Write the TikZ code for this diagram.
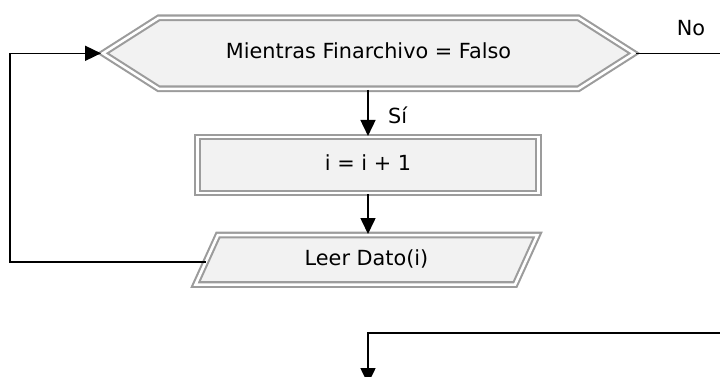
\documentclass[tikz,border=0pt]{standalone}
\usepackage{fontspec}
\setmainfont{DejaVu Sans}
\usepackage{tikz}
\usetikzlibrary{shapes.symbols,shapes.geometric,arrows.meta,calc}
\definecolor{borde}{HTML}{9C9C9C}
\definecolor{relleno}{HTML}{F2F2F2}

\begin{document}
\begin{tikzpicture}[x=1pt,y=1pt,
		caja/.style={draw=borde,double=white,double distance=2.6pt,line width=2.1pt,fill=relleno,inner xsep=0pt,text height=15.5pt,text depth=4.5pt,font=\fontsize{20.8}{25}\selectfont},
		rotulo/.style={font=\fontsize{20.8}{25}\selectfont,inner sep=0pt},
		flecha/.style={line width=1.6pt,-{Triangle[length=16pt,width=15pt]}},
		linea/.style={line width=1.6pt}]
		\useasboundingbox (0,0) rectangle (720,-376);

		\node[caja,signal,signal to=west and east,signal pointer angle=65,inner ysep=25.5pt,minimum width=531pt] (mientras) at (368.5,-53.3) {Mientras Finarchivo = Falso};
		\node[caja,rectangle,inner ysep=18pt,minimum width=341pt] (incremento) at (368,-165) {i = i + 1};
		\node[caja,trapezium,trapezium left angle=65.6,trapezium right angle=114.4,trapezium stretches body,inner ysep=14.75pt,minimum width=342pt] (leer) at (366.5,-259.8) {Leer Dato(i)};

		\node[rotulo,anchor=west] (si) at (388,-115) {Sí};
		\node[rotulo] (no) at (691,-28) {No};

		\coordinate (izquierda) at (10,0);
		\coordinate (salida) at (725,-53.3);
		\coordinate (retorno) at (725,-333);
		\coordinate (fin) at (368,-384);

		\draw[flecha] (mientras.south -| incremento.north) -- (incremento.north);
		\draw[flecha] (incremento.south) -- (incremento.south |- leer.north);
		\draw[flecha] ([yshift=-2pt]leer.west) -- ([yshift=-2pt]leer.west -| izquierda) |- (mientras.west);
		\draw[linea] (mientras.east) -- (salida);
		\draw[flecha] (retorno) -| (fin);
	\end{tikzpicture}
\end{document}
